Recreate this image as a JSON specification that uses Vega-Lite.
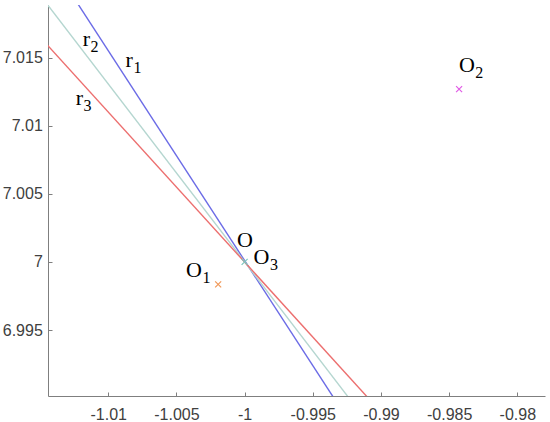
{
  "$schema": "https://vega.github.io/schema/vega-lite/v6.json",
  "width": 497,
  "height": 391,
  "autosize": {"type": "none"},
  "padding": {"left": 48, "top": 5, "right": 5, "bottom": 26},
  "background": "white",
  "config": {"view": {"stroke": null}},
  "resolve": {"scale": {"color": "independent"}},
  "datasets": {
    "lines": [
      {"line": "r1", "x": -1.0135, "y": 7.0209},
      {"line": "r1", "x": -0.9925, "y": 6.98854},
      {"line": "r2", "x": -1.0160, "y": 7.0209},
      {"line": "r2", "x": -0.9910, "y": 6.98825},
      {"line": "r3", "x": -1.0160, "y": 7.01761},
      {"line": "r3", "x": -0.9900, "y": 6.98898}
    ],
    "points": [
      {"pt": "O1", "x": -1.00194, "y": 6.99835},
      {"pt": "O2", "x": -0.98427, "y": 7.01268},
      {"pt": "O3", "x": -1.0, "y": 7.0}
    ],
    "labels": [
      {"main": "O", "sub": "", "x": -0.99939, "y": 7.00112},
      {"main": "O", "sub": "1", "x": -1.00313, "y": 6.99892},
      {"main": "O", "sub": "3", "x": -0.99818, "y": 6.99987},
      {"main": "O", "sub": "2", "x": -0.98312, "y": 7.01395},
      {"main": "r", "sub": "2", "x": -1.01134, "y": 7.01585},
      {"main": "r", "sub": "1", "x": -1.00819, "y": 7.01431},
      {"main": "r", "sub": "3", "x": -1.01185, "y": 7.01153}
    ]
  },
  "encoding": {
    "x": {
      "field": "x", "type": "quantitative",
      "scale": {"domain": [-1.01442, -0.97797], "nice": false, "zero": false},
      "axis": {
        "title": null, "grid": false,
        "values": [-1.01, -1.005, -1, -0.995, -0.99, -0.985, -0.98],
        "labelExpr": "replace(format(datum.value, '~g'), '\u2212', '-')",
        "domainColor": "#7f7f7f", "tickColor": "#7f7f7f", "tickSize": -4,
        "labelColor": "#404040", "labelFont": "Liberation Sans", "labelFontSize": 16,
        "labelPadding": 14.5, "labelFlush": false
      }
    },
    "y": {
      "field": "y", "type": "quantitative",
      "scale": {"domain": [6.99016, 7.01886], "nice": false, "zero": false},
      "axis": {
        "title": null, "grid": false,
        "values": [6.995, 7, 7.005, 7.01, 7.015],
        "labelExpr": "replace(format(datum.value, '~g'), '\u2212', '-')",
        "domainColor": "#7f7f7f", "tickColor": "#7f7f7f", "tickSize": -4,
        "labelColor": "#404040", "labelFont": "Liberation Sans", "labelFontSize": 16,
        "labelPadding": 9.7, "labelFlush": false
      }
    }
  },
  "layer": [
    {
      "data": {"name": "lines"},
      "mark": {"type": "line", "clip": true, "strokeWidth": 1.4},
      "encoding": {
        "color": {
          "field": "line", "type": "nominal", "legend": null,
          "scale": {"domain": ["r1", "r2", "r3"], "range": ["#6b6be6", "#b5d6d0", "#ec6f6f"]}
        }
      }
    },
    {
      "data": {"name": "points"},
      "mark": {"type": "point", "shape": "M-1,-1L1,1M1,-1L-1,1", "filled": false, "size": 36, "strokeWidth": 1.2, "opacity": 1},
      "encoding": {
        "color": {
          "field": "pt", "type": "nominal", "legend": null,
          "scale": {"domain": ["O1", "O2", "O3"], "range": ["#f0995a", "#e15de6", "#7cc6c0"]}
        }
      }
    },
    {
      "data": {"name": "labels"},
      "mark": {"type": "text", "align": "right", "baseline": "alphabetic", "font": "Liberation Serif", "fontSize": 22, "color": "#000000"},
      "encoding": {"text": {"field": "main"}}
    },
    {
      "data": {"name": "labels"},
      "mark": {"type": "text", "align": "left", "baseline": "alphabetic", "font": "Liberation Serif", "fontSize": 16, "dy": 6, "dx": 0.5, "color": "#000000"},
      "encoding": {"text": {"field": "sub"}}
    }
  ]
}
